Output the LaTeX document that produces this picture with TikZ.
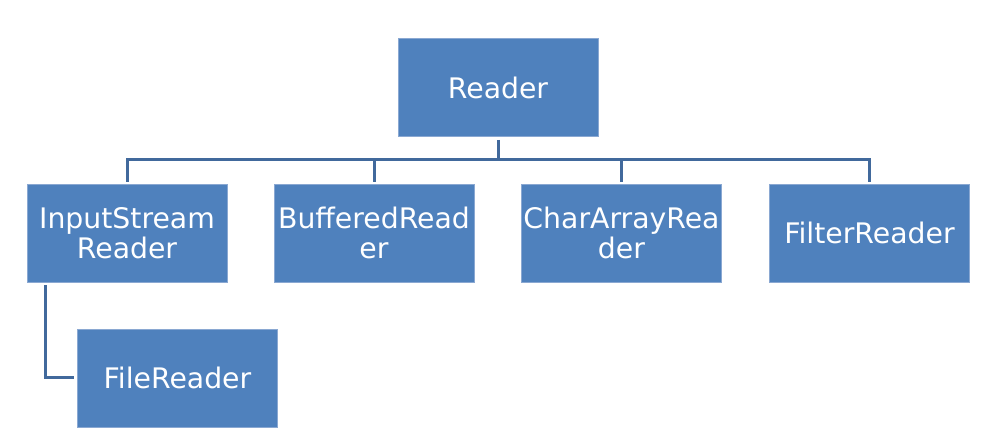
\documentclass[tikz,border=0pt]{standalone}
\usepackage{fontspec}
\setmainfont{DejaVu Sans}
\definecolor{boxfill}{HTML}{4F81BD}
\definecolor{boxedge}{HTML}{8AA8D2}
\definecolor{linecol}{HTML}{41699C}
\begin{document}
\begin{tikzpicture}[x=1pt,y=1pt,
  box/.style={fill=boxfill,draw=boxedge,line width=0.8pt,minimum width=200pt,minimum height=98pt,
    text=white,align=center,inner sep=0pt,font=\fontsize{28.3}{30}\selectfont},
  conn/.style={draw=linecol,line width=3pt}]
\useasboundingbox (0,0) rectangle (986,-430);
\node[box] (reader) at (498,-87.5) {Reader};
\node[box] (isr) at (127,-233) {InputStream\\Reader};
\node[box] (br) at (374,-233) {BufferedRead\\er};
\node[box] (car) at (621.5,-233) {CharArrayRea\\der};
\node[box] (fr) at (869.5,-233) {FilterReader};
\node[box] (file) at (177.5,-378) {FileReader};
\coordinate (bus) at (498,-160);
\draw[conn] ([yshift=-3pt]reader.south) -- (bus);
\draw[conn] (bus) -| ([yshift=2pt]isr.north);
\draw[conn] (bus) -| ([yshift=2pt]br.north);
\draw[conn] (bus) -| ([yshift=2pt]car.north);
\draw[conn] (bus) -| ([yshift=2pt]fr.north);
\draw[conn] ([shift={(19pt,-3pt)}]isr.south west) |- ([xshift=-3pt]file.west);
\end{tikzpicture}
\end{document}
